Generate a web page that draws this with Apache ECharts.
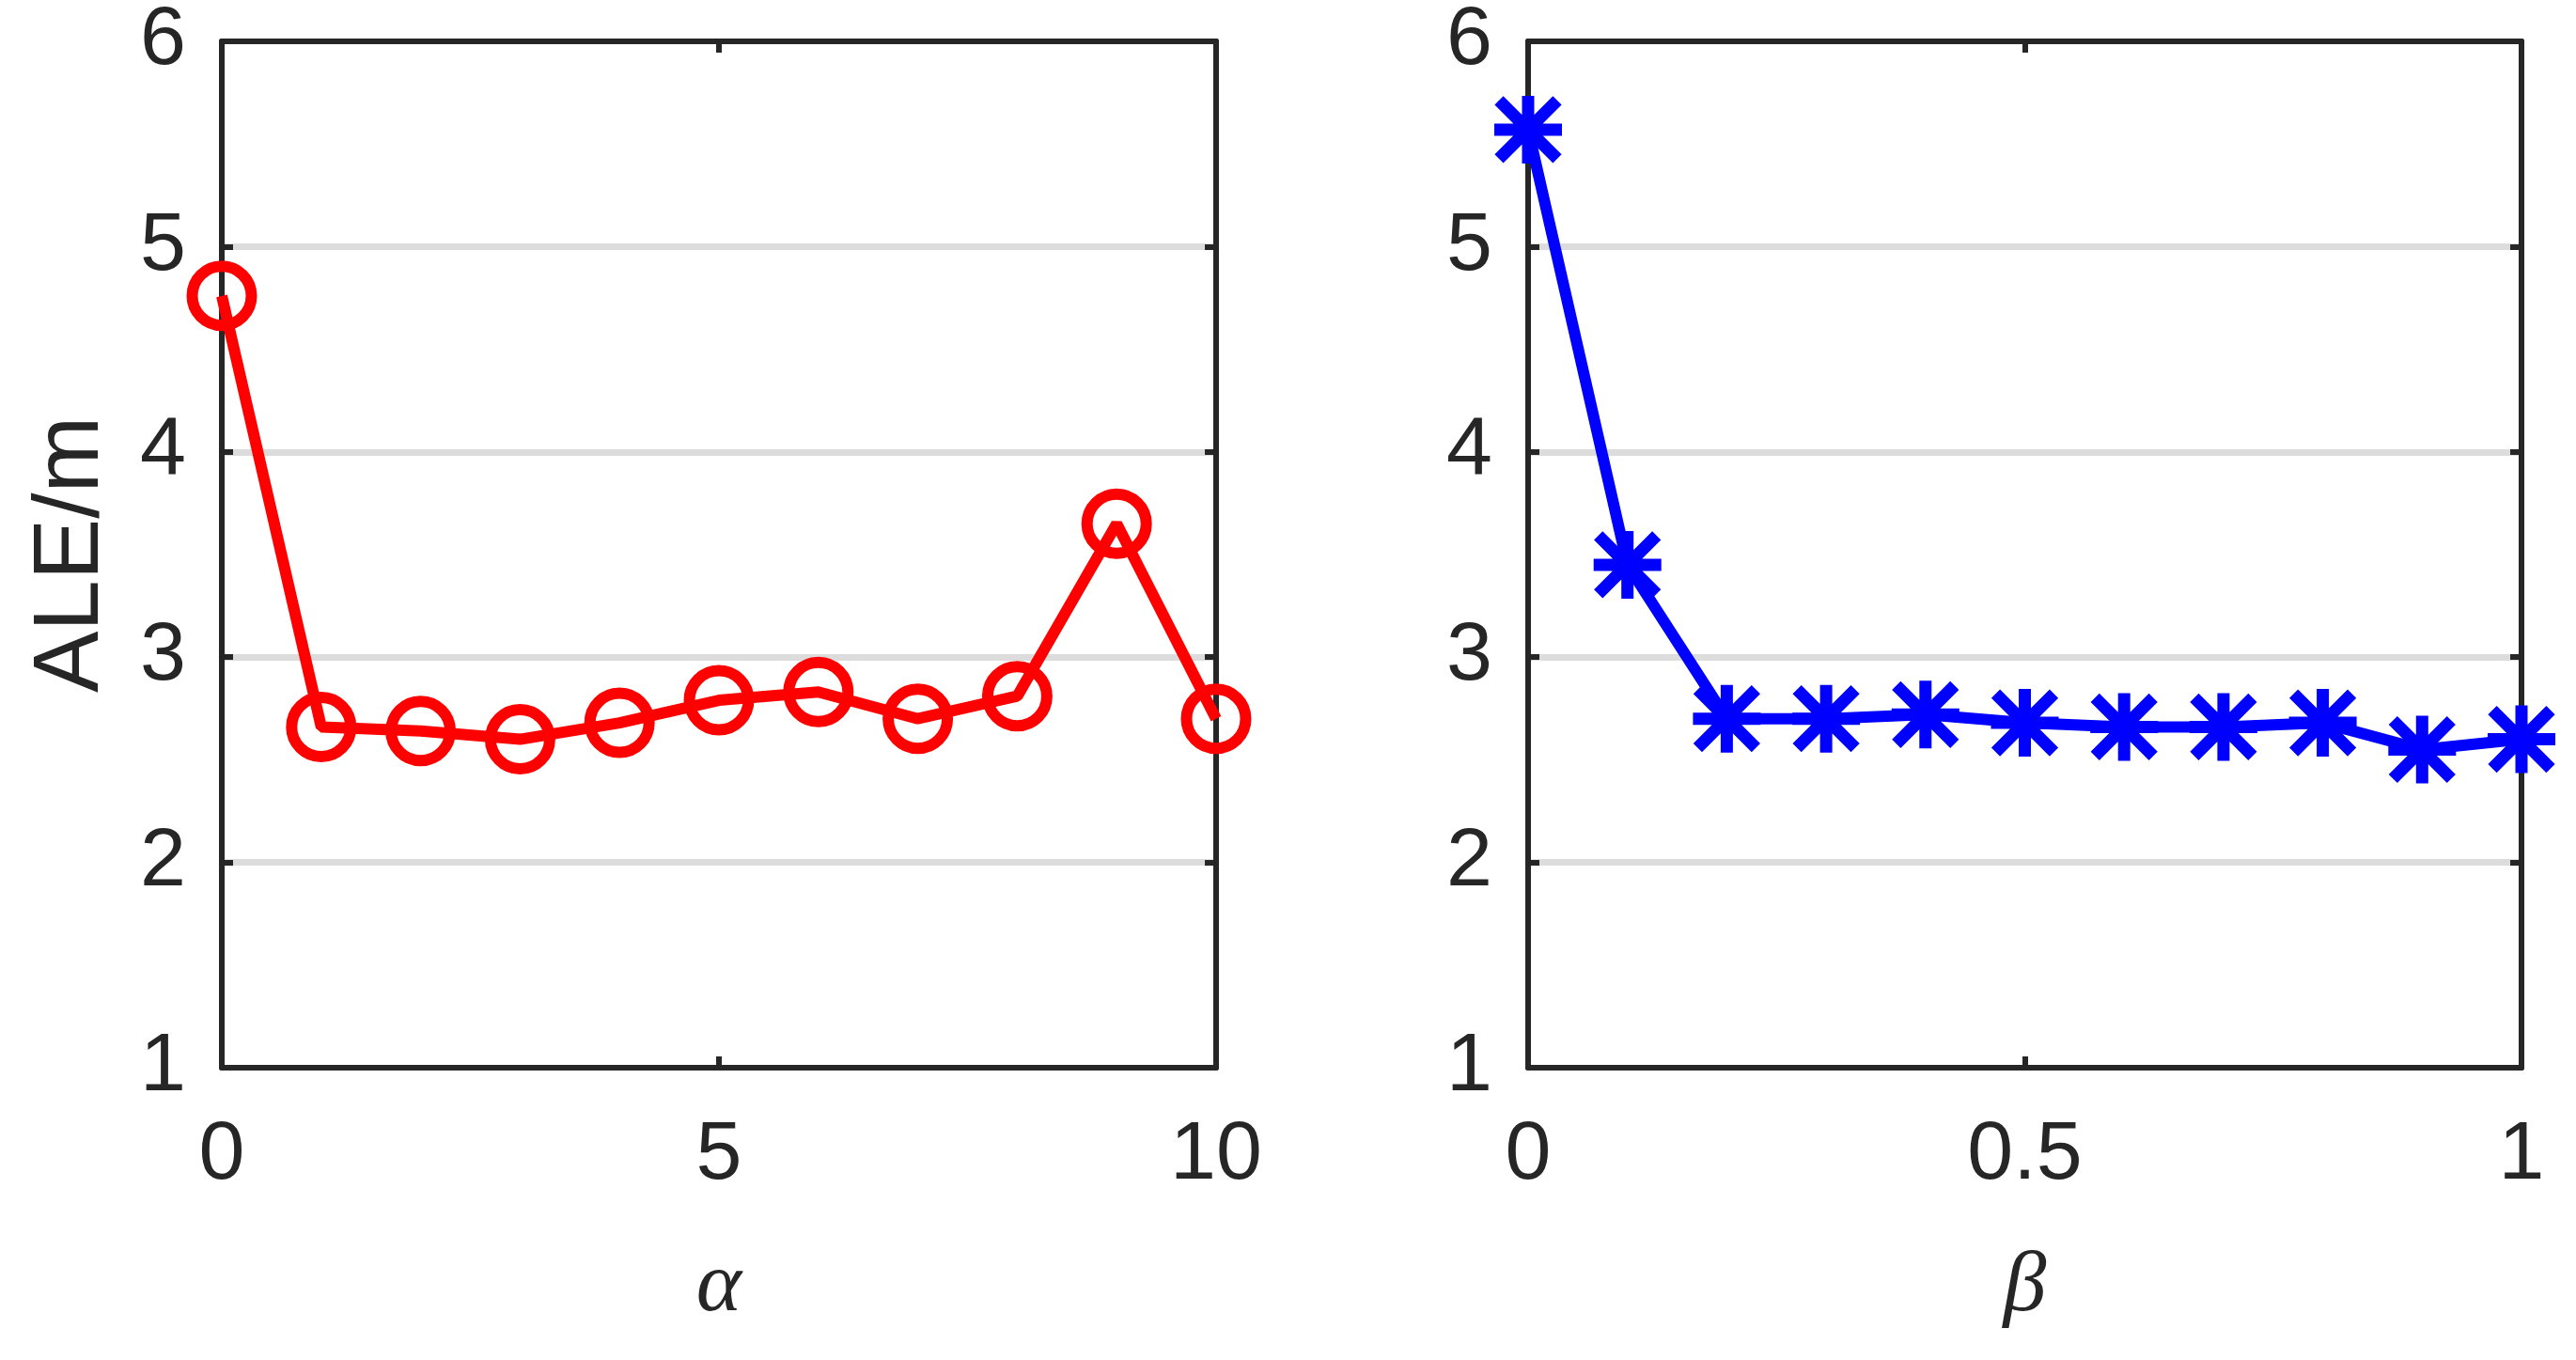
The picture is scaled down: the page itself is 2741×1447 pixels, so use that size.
<!DOCTYPE html>
<html>
<head>
<meta charset="utf-8">
<script src="https://cdn.jsdelivr.net/npm/echarts@6/dist/echarts.min.js"></script>
<style>
html,body{margin:0;padding:0;background:#fff;}
#chart{width:2741px;height:1447px;}
</style>
</head>
<body>
<div id="chart"></div>
<script>
// ---- data ----
var alphaValues = [0, 1, 2, 3, 4, 5, 6, 7, 8, 9, 10];
var aleAlpha    = [4.76, 2.66, 2.64, 2.60, 2.68, 2.79, 2.83, 2.70, 2.81, 3.65, 2.70];
var betaValues  = [0, 0.1, 0.2, 0.3, 0.4, 0.5, 0.6, 0.7, 0.8, 0.9, 1.0];
var aleBeta     = [5.57, 3.45, 2.70, 2.70, 2.72, 2.68, 2.66, 2.66, 2.68, 2.55, 2.60];
var yTicks      = [1, 2, 3, 4, 5, 6];
var alphaTicks  = [0, 5, 10];
var betaTicks   = [0, 0.5, 1];
var yLabel = 'ALE/m';
var alphaLabel = 'α';
var betaLabel = 'β';

function pairs(xs, ys) { return xs.map(function (x, i) { return [x, ys[i]]; }); }

var FRAME = '#262626';
var TICKFONT = 'Liberation Sans, Arial, Helvetica, sans-serif';

function xAxisMain(gi, ticks, name) {
  return {
    type: 'value', gridIndex: gi, position: 'bottom',
    min: ticks[0], max: ticks[ticks.length - 1], interval: ticks[1] - ticks[0],
    name: name, nameLocation: 'middle', nameGap: 188,
    nameTextStyle: { fontFamily: 'Liberation Serif, Times New Roman, serif', fontStyle: 'italic', fontSize: 92, color: FRAME },
    axisLine: { show: true, onZero: false, lineStyle: { color: FRAME, width: 6 } },
    axisTick: { show: true, inside: true, length: 12, lineStyle: { color: FRAME, width: 6 } },
    axisLabel: { show: true, margin: 50, fontSize: 88, fontFamily: TICKFONT, color: FRAME,
      formatter: function (v) { return String(v); } },
    splitLine: { show: false }
  };
}
function xAxisTop(gi, ticks) {
  return {
    type: 'value', gridIndex: gi, position: 'top',
    min: ticks[0], max: ticks[ticks.length - 1], interval: ticks[1] - ticks[0],
    axisLine: { show: true, onZero: false, lineStyle: { color: FRAME, width: 6 } },
    axisTick: { show: true, inside: true, length: 12, lineStyle: { color: FRAME, width: 6 } },
    axisLabel: { show: false }, splitLine: { show: false }
  };
}
function yAxisMain(gi, showName) {
  return {
    type: 'value', gridIndex: gi, position: 'left',
    min: yTicks[0], max: yTicks[yTicks.length - 1], interval: 1,
    name: showName ? yLabel : '', nameLocation: 'middle', nameGap: 110,
    nameTextStyle: { fontFamily: TICKFONT, fontSize: 98, color: FRAME },
    axisLine: { show: true, onZero: false, lineStyle: { color: FRAME, width: 6 } },
    axisTick: { show: true, inside: true, length: 12, lineStyle: { color: FRAME, width: 6 } },
    axisLabel: { show: true, margin: 38, fontSize: 88, fontFamily: TICKFONT, color: FRAME },
    splitLine: { show: true, showMinLine: false, showMaxLine: false, lineStyle: { color: '#dcdcdc', width: 7 } }
  };
}
function yAxisRight(gi) {
  return {
    type: 'value', gridIndex: gi, position: 'right',
    min: yTicks[0], max: yTicks[yTicks.length - 1], interval: 1,
    axisLine: { show: true, onZero: false, lineStyle: { color: FRAME, width: 6 } },
    axisTick: { show: true, inside: true, length: 12, lineStyle: { color: FRAME, width: 6 } },
    axisLabel: { show: false }, splitLine: { show: false }
  };
}

var asterisk = 'path://M0,-36L0,36M-36,0L36,0M-31,-31L31,31M-31,31L31,-31';

var option = {
  backgroundColor: '#ffffff',
  animation: false,
  grid: [
    { left: 236, top: 44, width: 1058, height: 1092, containLabel: false },
    { left: 1626, top: 44, width: 1057, height: 1092, containLabel: false }
  ],
  xAxis: [
    xAxisMain(0, alphaTicks, alphaLabel), xAxisTop(0, alphaTicks),
    xAxisMain(1, betaTicks, betaLabel), xAxisTop(1, betaTicks)
  ],
  yAxis: [
    yAxisMain(0, true), yAxisRight(0),
    yAxisMain(1, false), yAxisRight(1)
  ],
  series: [
    {
      type: 'line', xAxisIndex: 0, yAxisIndex: 0,
      data: pairs(alphaValues, aleAlpha),
      symbol: 'circle', symbolSize: 63, clip: false,
      lineStyle: { color: '#ff0000', width: 12 },
      itemStyle: { color: 'rgba(0,0,0,0)', borderColor: '#ff0000', borderWidth: 12 },
      z: 5
    },
    {
      type: 'line', xAxisIndex: 2, yAxisIndex: 2,
      data: pairs(betaValues, aleBeta),
      symbol: asterisk, symbolSize: 72, symbolKeepAspect: true, clip: false,
      lineStyle: { color: '#0000ff', width: 12 },
      itemStyle: { color: '#0000ff', borderColor: '#0000ff', borderWidth: 13 },
      z: 5
    }
  ]
};

var chart = echarts.init(document.getElementById('chart'), null, { renderer: 'canvas' });
chart.setOption(option);
</script>
</body>
</html>
